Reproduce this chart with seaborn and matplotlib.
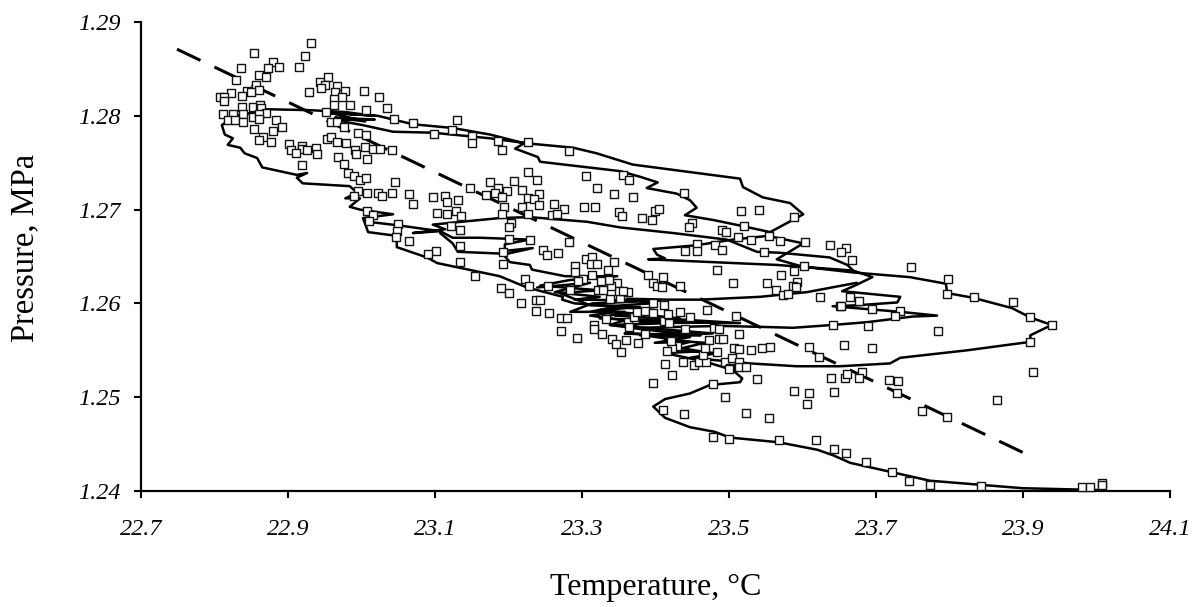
import matplotlib
matplotlib.use("Agg")
import matplotlib.pyplot as plt
import pandas as pd
import seaborn as sns

measured = [
    (22.931,1.2878),(22.854,1.2867),(22.923,1.2864),(22.879,1.2857),(22.836,1.2851),(22.873,1.2851),(22.888,1.2852),(22.915,1.2852),
    (22.860,1.2843),(22.870,1.2841),(22.829,1.2838),(22.944,1.2836),(22.955,1.2841),(22.951,1.2833),(22.945,1.2830),(22.857,1.2833),
    (22.860,1.2827),(22.844,1.2826),(22.849,1.2825),(22.823,1.2824),(22.837,1.2821),(22.807,1.2820),(22.813,1.2820),(22.813,1.2816),
    (22.967,1.2832),(22.964,1.2825),(22.978,1.2826),(22.928,1.2825),(22.974,1.2820),(22.963,1.2818),(23.004,1.2826),(23.024,1.2820),
    (22.963,1.2811),(22.985,1.2812),(23.035,1.2808),(22.838,1.2809),(22.852,1.2809),(22.862,1.2811),(22.863,1.2808),(22.870,1.2803),
    (22.811,1.2802),(22.825,1.2802),(22.839,1.2802),(22.853,1.2799),(22.861,1.2802),(22.861,1.2797),(22.818,1.2796),(22.828,1.2795),
    (22.839,1.2793),(22.884,1.2796),(22.892,1.2788),(22.880,1.2784),(22.854,1.2786),(22.952,1.2804),(23.006,1.2806),(23.044,1.2797),
    (23.070,1.2792),(23.130,1.2796),(23.123,1.2785),(23.099,1.2781),(23.150,1.2778),(23.150,1.2771),(22.958,1.2793),(22.966,1.2793),
    (22.976,1.2788),(22.995,1.2782),(23.006,1.2780),(22.866,1.2777),(22.861,1.2774),(22.877,1.2772),(22.902,1.2770),(22.919,1.2768),
    (22.904,1.2764),(22.919,1.2765),(22.926,1.2764),(22.911,1.2760),(22.938,1.2766),(22.939,1.2759),(22.953,1.2775),(22.958,1.2777),
    (22.966,1.2772),(22.979,1.2771),(22.991,1.2764),(22.992,1.2759),(23.005,1.2767),(23.015,1.2765),(23.025,1.2765),(23.041,1.2764),
    (22.968,1.2756),(22.976,1.2749),(23.008,1.2754),(22.919,1.2748),(22.981,1.2739),(22.990,1.2736),(22.998,1.2732),(23.006,1.2734),
    (23.045,1.2729),(23.147,1.2723),(22.995,1.2720),(23.007,1.2718),(22.990,1.2715),(23.022,1.2718),(23.028,1.2714),(23.041,1.2718),
    (23.064,1.2717),(23.070,1.2706),(23.097,1.2713),(23.114,1.2715),(23.116,1.2708),(23.131,1.2710),(23.103,1.2696),(23.117,1.2695),
    (23.129,1.2698),(23.136,1.2693),(23.007,1.2698),(23.015,1.2694),(23.010,1.2688),(23.050,1.2685),(23.048,1.2677),(23.047,1.2671),
    (23.064,1.2667),(23.122,1.2683),(23.134,1.2678),(23.134,1.2661),(23.101,1.2656),(23.091,1.2653),(23.134,1.2644),(23.154,1.2629),
    (23.186,1.2773),(23.227,1.2772),(23.191,1.2764),(23.282,1.2762),(23.226,1.2740),(23.239,1.2732),(23.207,1.2731),(23.175,1.2729),
    (23.186,1.2723),(23.198,1.2720),(23.219,1.2721),(23.182,1.2718),(23.170,1.2716),(23.191,1.2713),(23.226,1.2712),(23.242,1.2717),
    (23.235,1.2711),(23.241,1.2705),(23.218,1.2703),(23.194,1.2703),(23.262,1.2706),(23.276,1.2701),(23.226,1.2695),(23.191,1.2695),
    (23.259,1.2694),(23.266,1.2695),(23.203,1.2686),(23.201,1.2681),(23.306,1.2736),(23.320,1.2723),(23.343,1.2717),(23.369,1.2713),
    (23.356,1.2737),(23.364,1.2732),(23.439,1.2718),(23.318,1.2703),(23.303,1.2703),(23.350,1.2697),(23.354,1.2693),(23.382,1.2691),
    (23.395,1.2689),(23.400,1.2699),(23.405,1.2701),(23.450,1.2686),(23.446,1.2681),(23.516,1.2699),(23.541,1.2700),(23.588,1.2692),
    (23.520,1.2683),(23.490,1.2678),(23.496,1.2676),(23.512,1.2671),(23.530,1.2668),(23.554,1.2672),(23.569,1.2666),(23.603,1.2665),
    (23.637,1.2662),(23.456,1.2663),(23.481,1.2662),(23.440,1.2656),(23.457,1.2656),(23.490,1.2657),(23.548,1.2655),(23.282,1.2665),
    (23.229,1.2668),(23.201,1.2669),(23.247,1.2657),(23.253,1.2652),(23.267,1.2654),(23.193,1.2655),(23.192,1.2642),(23.306,1.2647),
    (23.314,1.2649),(23.312,1.2642),(23.320,1.2642),(23.290,1.2640),(23.291,1.2634),(23.343,1.2644),(23.336,1.2636),(23.223,1.2626),
    (23.228,1.2619),(23.254,1.2619),(23.190,1.2616),(23.201,1.2611),(23.217,1.2600),(23.238,1.2604),(23.243,1.2604),(23.237,1.2592),
    (23.255,1.2590),(23.272,1.2584),(23.280,1.2584),(23.271,1.2571),(23.293,1.2563),(23.316,1.2577),(23.317,1.2573),(23.327,1.2567),
    (23.341,1.2562),(23.346,1.2557),(23.353,1.2548),(23.360,1.2561),(23.376,1.2558),(23.386,1.2567),(23.362,1.2580),(23.364,1.2575),
    (23.332,1.2583),(23.371,1.2585),(23.375,1.2591),(23.386,1.2592),(23.396,1.2590),(23.411,1.2581),(23.419,1.2579),(23.417,1.2589),
    (23.433,1.2591),(23.447,1.2586),(23.470,1.2593),(23.510,1.2587),(23.412,1.2598),(23.397,1.2600),(23.338,1.2605),(23.352,1.2606),
    (23.363,1.2612),(23.347,1.2622),(23.350,1.2613),(23.339,1.2619),(23.337,1.2625),(23.326,1.2624),(23.313,1.2630),(23.302,1.2626),
    (23.295,1.2624),(23.283,1.2614),(23.322,1.2614),(23.328,1.2614),(23.356,1.2613),(23.390,1.2630),(23.396,1.2622),(23.402,1.2619),
    (23.409,1.2618),(23.410,1.2628),(23.433,1.2619),(23.484,1.2636),(23.505,1.2622),(23.552,1.2622),(23.571,1.2630),(23.602,1.2640),
    (23.589,1.2635),(23.593,1.2623),(23.587,1.2619),(23.591,1.2617),(23.564,1.2614),(23.573,1.2609),(23.580,1.2610),(23.624,1.2607),
    (23.651,1.2597),(23.642,1.2577),(23.479,1.2574),(23.486,1.2573),(23.440,1.2573),(23.513,1.2567),(23.473,1.2561),(23.486,1.2562),
    (23.492,1.2562),(23.530,1.2550),(23.545,1.2552),(23.556,1.2554),(23.609,1.2554),(23.622,1.2543),(23.639,1.2521),(23.538,1.2519),
    (23.422,1.2524),(23.413,1.2535),(23.438,1.2538),(23.453,1.2534),(23.459,1.2538),(23.469,1.2537),(23.495,1.2537),(23.504,1.2542),
    (23.514,1.2537),(23.501,1.2531),(23.514,1.2532),(23.523,1.2532),(23.507,1.2552),(23.514,1.2551),(23.484,1.2548),(23.464,1.2545),
    (23.467,1.2552),(23.429,1.2555),(23.423,1.2552),(23.415,1.2549),(23.421,1.2560),(23.659,1.2659),(23.653,1.2655),(23.668,1.2646),
    (23.748,1.2639),(23.798,1.2626),(23.796,1.2610),(23.833,1.2607),(23.886,1.2601),(23.909,1.2585),(23.939,1.2577),(23.910,1.2559),
    (23.784,1.2571),(23.689,1.2576),(23.656,1.2556),(23.695,1.2552),(23.733,1.2592),(23.726,1.2587),(23.695,1.2594),(23.677,1.2603),
    (23.665,1.2607),(23.652,1.2597),(23.658,1.2521),(23.660,1.2525),(23.681,1.2527),(23.677,1.2520),(23.718,1.2518),(23.730,1.2517),
    (23.728,1.2505),(23.865,1.2497),(23.913,1.2527),(23.763,1.2485),(23.796,1.2479),(23.589,1.2507),(23.609,1.2505),(23.643,1.2506),
    (23.606,1.2493),(23.495,1.2500),(23.523,1.2483),(23.554,1.2478),(23.478,1.2458),(23.500,1.2455),(23.568,1.2454),(23.619,1.2454),
    (23.643,1.2445),(23.659,1.2441),(23.687,1.2431),(23.722,1.2420),(23.745,1.2411),(23.774,1.2406),(23.843,1.2405),(23.478,1.2514),
    (23.500,1.2530),(23.397,1.2515),(23.410,1.2486),(23.439,1.2482),(23.980,1.2404),(23.991,1.2404),(24.008,1.2409),(24.008,1.2406),
]

# model curve, one list per continuous stretch of the loop
loop_outer = [
    (24.005,1.2401),(23.899,1.2403),(23.773,1.2411),(23.722,1.2420),(23.665,1.2430),(23.642,1.2438),(23.620,1.2444),(23.567,1.2452),
    (23.501,1.2457),(23.481,1.2463),(23.447,1.2468),(23.413,1.2478),(23.397,1.2490),(23.413,1.2498),(23.447,1.2504),(23.474,1.2513),
    (23.515,1.2516),(23.518,1.2520),(23.505,1.2529),(23.467,1.2538),(23.413,1.2547),(23.461,1.2549),(23.422,1.2554),(23.447,1.2559),
    (23.399,1.2558),(23.447,1.2564),(23.358,1.2568),(23.461,1.2566),(23.386,1.2572),(23.338,1.2577),(23.461,1.2580),(23.324,1.2584),
    (23.358,1.2591),(23.311,1.2591),(23.348,1.2597),(23.290,1.2600),(23.273,1.2604),(23.274,1.2607),(23.225,1.2617),(23.188,1.2629),
    (23.103,1.2643),(23.089,1.2649),(23.048,1.2660),(23.048,1.2672),(23.009,1.2676),(23.002,1.2691),(23.043,1.2695),(22.998,1.2700),
    (22.984,1.2703),(22.998,1.2712),(22.978,1.2712),(22.994,1.2718),(22.984,1.2725),(22.920,1.2728),(22.912,1.2734),(22.926,1.2739),
    (22.912,1.2737),(22.865,1.2745),(22.858,1.2755),(22.841,1.2760),(22.835,1.2766),(22.818,1.2769),(22.825,1.2776),(22.814,1.2780),
    (22.810,1.2790),(22.824,1.2798),(22.839,1.2801),(22.828,1.2797),(22.848,1.2803),(22.832,1.2800),(22.871,1.2807),(22.930,1.2806),
    (22.978,1.2804),(23.007,1.2801),(22.957,1.2803),(23.022,1.2800),(23.070,1.2791),(23.124,1.2787),(23.175,1.2780),(23.220,1.2771),
    (23.288,1.2766),(23.320,1.2760),(23.369,1.2748),(23.515,1.2733),(23.519,1.2724),(23.546,1.2713),(23.583,1.2707),(23.601,1.2695),
    (23.556,1.2676),(23.515,1.2683),(23.478,1.2689),(23.440,1.2694),(23.456,1.2702),(23.447,1.2710),(23.429,1.2717),(23.388,1.2723),
    (23.403,1.2729),(23.379,1.2735),(23.352,1.2741),(23.243,1.2751),(23.240,1.2756),(23.209,1.2765),(23.222,1.2771),(23.175,1.2776),
    (23.097,1.2782),(23.043,1.2783),(23.002,1.2790),(22.961,1.2796),(23.018,1.2796),(22.964,1.2798),(23.005,1.2794),(22.953,1.2804),
    (23.018,1.2800),
]
loop_middle = [
    (23.009,1.2687),(23.052,1.2683),(23.107,1.2677),(23.070,1.2675),(23.114,1.2679),(23.097,1.2684),(23.188,1.2691),(23.229,1.2692),
    (23.307,1.2687),(23.352,1.2681),(23.424,1.2675),(23.497,1.2668),(23.538,1.2655),(23.569,1.2654),(23.637,1.2649),(23.661,1.2641),
    (23.669,1.2635),(23.695,1.2628),(23.674,1.2620),(23.654,1.2613),(23.733,1.2607),(23.729,1.2601),(23.674,1.2598),(23.641,1.2597),
    (23.733,1.2591),(23.783,1.2587),(23.750,1.2586),(23.688,1.2580),(23.641,1.2577),(23.587,1.2574),(23.542,1.2575),(23.488,1.2576),
    (23.379,1.2574),(23.354,1.2582),(23.433,1.2584),(23.324,1.2593),(23.379,1.2596),(23.311,1.2598),(23.270,1.2611),(23.324,1.2614),
    (23.243,1.2619),(23.284,1.2625),(23.348,1.2629),(23.277,1.2629),(23.232,1.2636),(23.229,1.2641),(23.202,1.2644),(23.193,1.2652),
    (23.233,1.2659),(23.195,1.2656),(23.195,1.2663),(23.229,1.2668),(23.161,1.2670),(23.124,1.2670),(23.107,1.2677),
]
loop_short = [(23.193,1.2653),(23.131,1.2655),(23.124,1.2664),(23.107,1.2675)]
loop_right_top = [
    (23.939,1.2577),(23.910,1.2585),(23.885,1.2595),(23.832,1.2606),(23.797,1.2611),(23.795,1.2621),(23.746,1.2628),(23.669,1.2633),
    (23.601,1.2639),(23.565,1.2647),(23.601,1.2664),(23.553,1.2672),(23.505,1.2668),(23.456,1.2662),(23.397,1.2658),(23.402,1.2652),
    (23.413,1.2648),(23.390,1.2647),(23.565,1.2641),(23.669,1.2635),
]
loop_right_low = [
    (23.939,1.2577),(23.910,1.2566),(23.910,1.2559),(23.824,1.2550),(23.733,1.2542),(23.719,1.2536),(23.651,1.2533),(23.592,1.2533),
    (23.529,1.2536),(23.488,1.2539),(23.447,1.2542),(23.484,1.2547),(23.424,1.2550),(23.467,1.2558),(23.413,1.2561),(23.447,1.2570),
    (23.379,1.2566),(23.461,1.2566),
]
loop_inner = [
    (23.674,1.2622),(23.606,1.2612),(23.542,1.2607),(23.461,1.2604),(23.416,1.2604),(23.361,1.2605),(23.393,1.2600),(23.338,1.2597),
    (23.399,1.2593),(23.345,1.2587),(23.515,1.2579),(23.379,1.2580),
]
loop_zigzag = [
    (23.239,1.2617),(23.311,1.2622),(23.263,1.2612),(23.324,1.2607),(23.290,1.2604),(23.406,1.2603),(23.314,1.2600),(23.284,1.2591),
    (23.348,1.2591),(23.311,1.2587),(23.358,1.2582),(23.338,1.2577),(23.478,1.2568),(23.393,1.2565),(23.447,1.2559),
]
strands = [loop_outer, loop_middle, loop_short, loop_right_top, loop_right_low, loop_inner, loop_zigzag]

fit_temp = [22.749, 23.9]
fit_pres = [1.2871, 1.2441]

x_ticks = [22.7, 22.9, 23.1, 23.3, 23.5, 23.7, 23.9, 24.1]
y_ticks = [1.24, 1.25, 1.26, 1.27, 1.28, 1.29]

sns.set_theme(style="ticks")
plt.rcParams["font.family"] = ["Liberation Serif", "DejaVu Serif"]

fig = plt.figure(figsize=(11.92, 6.07), dpi=100)
ax = fig.add_axes([141 / 1192, 1 - 491 / 607, 1029 / 1192, 469 / 607])

for strand in strands:
    df = pd.DataFrame(strand, columns=["temp", "pres"])
    sns.lineplot(data=df, x="temp", y="pres", sort=False, estimator=None, color="black",
                 linewidth=1.8, ax=ax, zorder=2, clip_on=False)

sns.lineplot(x=fit_temp, y=fit_pres, color="black", linewidth=2.2, linestyle=(0, (8.5, 5.05)),
             sort=False, estimator=None, ax=ax, zorder=3)

points = pd.DataFrame(measured, columns=["temp", "pres"])
sns.scatterplot(data=points, x="temp", y="pres", marker="s", s=30, color="white",
                edgecolor="#111111", linewidth=1.0, ax=ax, zorder=4, clip_on=False)

ax.set_xlim(22.7, 24.1)
ax.set_ylim(1.24, 1.29)
ax.set_xticks(x_ticks)
ax.set_xticklabels([f"{t:.1f}" for t in x_ticks], fontstyle="italic")
ax.set_yticks(y_ticks)
ax.set_yticklabels([f"{t:.2f}" for t in y_ticks], fontstyle="italic")
ax.tick_params(axis="x", length=5, width=1.5, labelsize=17.5, pad=15, colors="black")
ax.tick_params(axis="y", length=5, width=1.5, labelsize=17.5, pad=10, colors="black")
ax.set_xlabel("Temperature, °C", fontsize=23, color="black")
ax.set_ylabel("Pressure, MPa", fontsize=23.5, color="black")
ax.xaxis.set_label_coords(0.5, -0.175)
ax.yaxis.set_label_coords(-0.098, 0.518)
sns.despine(ax=ax)
for side in ["left", "bottom"]:
    ax.spines[side].set_linewidth(1.6)
    ax.spines[side].set_color("black")

fig.savefig("out.png", dpi=100)
